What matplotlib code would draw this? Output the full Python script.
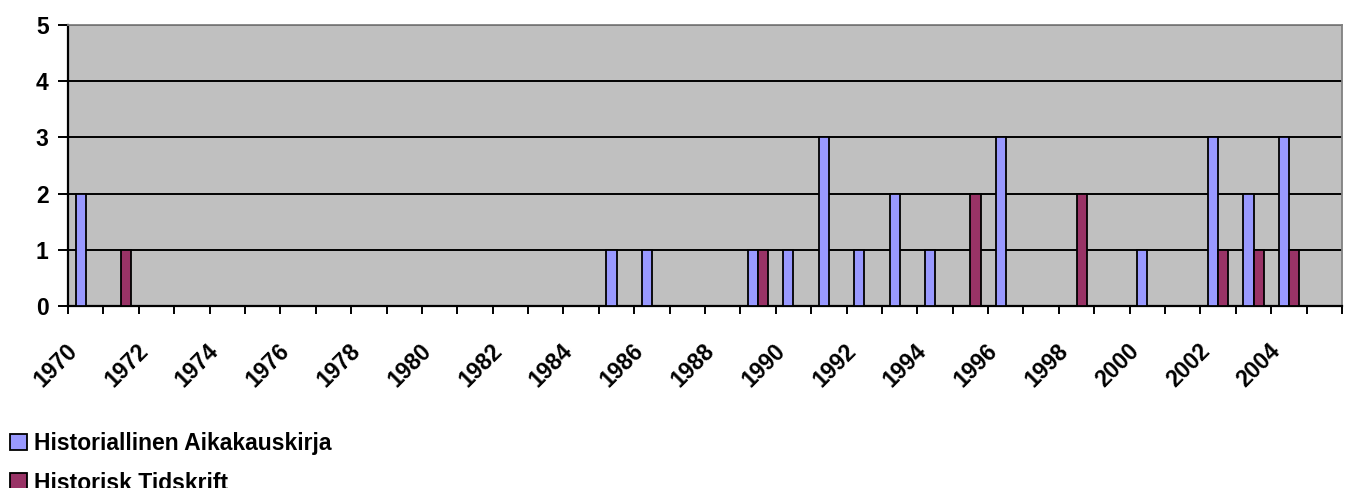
import matplotlib.pyplot as plt
import matplotlib.transforms as mtransforms
import numpy as np

YEARS = list(range(1970, 2006))
SERIES_NAMES = ["Historiallinen Aikakauskirja", "Historisk Tidskrift"]

HA = {1970: 2, 1985: 1, 1986: 1, 1989: 1, 1990: 1, 1991: 3, 1992: 1,
      1993: 2, 1994: 1, 1996: 3, 2000: 1, 2002: 3, 2003: 2, 2004: 3}
HT = {1971: 1, 1989: 1, 1995: 2, 1998: 2, 2002: 1, 2003: 1, 2004: 1}

ha_vals = [HA.get(y, 0) for y in YEARS]
ht_vals = [HT.get(y, 0) for y in YEARS]

plt.rcParams["font.family"] = ["Liberation Sans", "DejaVu Sans"]
plt.rcParams["font.weight"] = "bold"
FS = 16.5

fig = plt.figure(figsize=(13.46, 4.88), dpi=100)
ax = fig.add_axes([68 / 1346, 1 - 306 / 488, (1342 - 68) / 1346, (306 - 25) / 488])
ax.set_facecolor("#C0C0C0")

x = np.arange(len(YEARS))
w = 1 / 3.5
ax.bar(x - w / 2, ha_vals, w, color="#9999FF", edgecolor="black",
       linewidth=1.3, label=SERIES_NAMES[0], zorder=3)
ax.bar(x + w / 2, ht_vals, w, color="#993366", edgecolor="black",
       linewidth=1.3, label=SERIES_NAMES[1], zorder=3)

ax.set_xlim(-0.5, len(YEARS) - 0.5)
ax.set_ylim(0, 5)
ax.set_yticks(range(0, 6))
ax.set_yticklabels([str(v) for v in range(0, 6)], fontsize=FS, fontweight="bold")
ax.grid(axis="y", color="black", linewidth=1.4, zorder=1)

# boundaries as major ticks, labels at centres
ax.set_xticks(np.arange(-0.5, len(YEARS)), labels=[])
lab_pos = x[::2]
ax.set_xticks(lab_pos, minor=True)
ax.set_xticklabels([str(YEARS[i]) for i in lab_pos], minor=True,
                   rotation=45, ha="right", va="center", rotation_mode="anchor",
                   fontsize=FS, fontweight="bold")
ax.tick_params(axis="x", which="minor", length=0, pad=30)
ax.tick_params(axis="x", which="major", length=6, width=1.4, direction="out")
ax.tick_params(axis="y", which="major", length=7, width=1.4, direction="out", pad=7)
shift = mtransforms.ScaledTranslation(-12 / 100, 0, fig.dpi_scale_trans)
for lab in ax.get_xticklabels(minor=True):
    lab.set_transform(lab.get_transform() + shift)

for s in ["left", "bottom"]:
    ax.spines[s].set_linewidth(1.6)
    ax.spines[s].set_color("black")
for s in ["top", "right"]:
    ax.spines[s].set_color("#808080")
    ax.spines[s].set_linewidth(1.3)
ax.set_axisbelow(True)

fig.legend(loc="upper left", bbox_to_anchor=(10 / 1346, 1 - 432 / 488),
           frameon=False, handlelength=0.75, handleheight=0.75,
           handletextpad=0.3, labelspacing=0.72, borderaxespad=0, borderpad=0,
           prop={"weight": "bold", "size": FS})

fig.savefig("out.png", dpi=100)
